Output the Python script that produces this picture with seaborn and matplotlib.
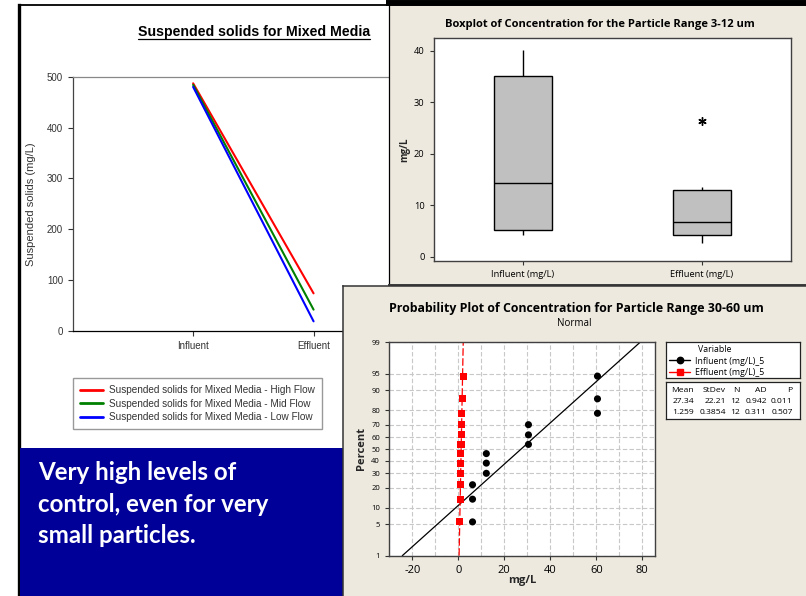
import numpy as np
import pandas as pd
import seaborn as sns
import matplotlib.pyplot as plt
from matplotlib.lines import Line2D
from matplotlib.ticker import MultipleLocator
from statistics import NormalDist

# suspended solids, mixed media (mg/L)
stages = ["Influent", "Effluent"]
high_flow = [487, 74]
mid_flow = [484, 42]
low_flow = [480, 19]
flow_labels = ["Suspended solids for Mixed Media - High Flow",
               "Suspended solids for Mixed Media - Mid Flow",
               "Suspended solids for Mixed Media - Low Flow"]
flow_colors = ["#FF0000", "#008000", "#0000FF"]

# particle range 3-12 um (mg/L)
box_groups = ["Influent (mg/L)", "Effluent (mg/L)"]
box_influent = [4.2, 4.6, 5.0, 5.3, 9.0, 13.5, 15.0, 22.0, 34.8, 36.0, 38.5, 40.1]
box_effluent = [2.6, 3.9, 4.1, 4.3, 5.6, 6.5, 6.9, 9.2, 12.7, 13.5, 13.5, 26.4]

# particle range 30-60 um, normal probability plot
prob_vars = ["Influent (mg/L)_5", "Effluent (mg/L)_5"]
prob_percent = [5.6, 13.7, 21.8, 29.8, 37.9, 46.0, 54.0, 62.1, 70.2, 78.2, 86.3, 94.4]
prob_influent = [6.2, 6.2, 6.2, 12.2, 12.2, 12.2, 30.5, 30.5, 30.5, 60.5, 60.5, 60.5]
prob_effluent = [0.7, 0.8, 1.0, 1.05, 1.1, 1.15, 1.2, 1.35, 1.4, 1.5, 1.75, 2.1]
fit_mean = [27.34, 1.259]
fit_sd = [22.21, 0.3854]
fit_percent = [1, 99]
stat_header = ["Mean", "StDev", "N", "AD", "P"]
stat_rows = [["27.34", "22.21", "12", "0.942", "0.011"],
             ["1.259", "0.3854", "12", "0.311", "0.507"]]

note = ["Very high levels of", "control, even for very", "small particles."]

sns.set_style("ticks")
plt.rcParams['font.family'] = ['Open Sans', 'DejaVu Sans']
plt.rcParams['axes.unicode_minus'] = False
plt.rcParams['text.color'] = 'black'

W, H = 806, 596
fig = plt.figure(figsize=(8.06, 5.96), dpi=100)
fig.patch.set_facecolor("white")


def px_axes(x0, y0, x1, y1):
    return fig.add_axes([x0 / W, 1 - y1 / H, (x1 - x0) / W, (y1 - y0) / H])


def panel(x0, y0, x1, y1, fc, edges):
    a = px_axes(x0, y0, x1, y1)
    a.set_facecolor(fc)
    a.set_xticks([])
    a.set_yticks([])
    for s in a.spines:
        a.spines[s].set_visible(False)
    for s, (c, lw) in edges.items():
        a.spines[s].set_visible(True)
        a.spines[s].set_color(c)
        a.spines[s].set_linewidth(lw)
    return a


def fx(x):
    return x / W


def fy(y):
    return 1 - y / H


beige = "#EDE9DF"

# ---------------- left slide panel ----------------
panel(18.5, 5, 430, 600, "white", {"left": ("black", 2.4), "top": ("black", 1.3)})

ax1 = px_axes(72.7, 76.7, 434, 331)
df_ss = pd.DataFrame({
    "stage": stages * 3,
    "value": high_flow + mid_flow + low_flow,
    "flow": [flow_labels[0]] * 2 + [flow_labels[1]] * 2 + [flow_labels[2]] * 2,
})
sns.lineplot(data=df_ss, x="stage", y="value", hue="flow", palette=flow_colors,
             linewidth=1.5, ax=ax1, sort=False)
handles, labels = ax1.get_legend_handles_labels()
ax1.get_legend().remove()
ax1.set_xlim(-1, 2)
ax1.set_ylim(0, 500)
ax1.set_yticks(range(0, 501, 100))
ax1.set_xlabel("")
ax1.set_ylabel("Suspended solids (mg/L)", fontsize=8, color="#333333",
               family="Liberation Sans")
ax1.yaxis.set_label_coords(-0.1016, 0.5)
ax1.tick_params(length=3.5, width=0.8, labelsize=7, labelcolor="#333333", color="#333333")
for lab in ax1.get_xticklabels() + ax1.get_yticklabels():
    lab.set_family("Liberation Sans")
ax1.spines["top"].set_color("#888888")
ax1.spines["left"].set_color("#444444")
ax1.spines["bottom"].set_color("black")
ax1.spines["right"].set_visible(False)
for s in ax1.spines.values():
    s.set_linewidth(0.9)
ax1.legend(handles, labels, loc="upper left", bbox_to_anchor=(fx(72.7), fy(378)),
           bbox_transform=fig.transFigure, borderaxespad=0, borderpad=0.7,
           handlelength=2.3, handletextpad=0.6, labelspacing=0.36,
           fancybox=False, edgecolor="#999999", framealpha=1,
           prop={"family": "Liberation Sans", "size": 7.2})
for t in ax1.get_legend().get_texts():
    t.set_color("#333333")
for ln in ax1.get_legend().get_lines():
    ln.set_linewidth(2)

title1 = fig.text(fx(254), fy(32), "Suspended solids for Mixed Media", ha="center",
                  va="center", fontsize=10.2, fontweight="bold", family="Liberation Sans")

# blue note box
panel(20, 448.3, 343, 600, "#000099", {})
for txt, base in zip(note, [480, 511.7, 543.3]):
    fig.text(fx(38), fy(base), txt, color="white", fontsize=17.4, fontweight="bold",
             family="Lato", va="baseline", ha="left")

# ---------------- boxplot panel ----------------
panel(388.5, 3, 810, 284.5, beige, {"left": ("black", 0.9), "top": ("black", 4.3),
                                    "bottom": ("#3a3a3a", 1.4)})
ax2 = px_axes(433.7, 38.3, 791, 260.7)
ax2.set_facecolor("white")
df_box = pd.DataFrame({
    "group": [box_groups[0]] * len(box_influent) + [box_groups[1]] * len(box_effluent),
    "conc": box_influent + box_effluent,
})
sns.boxplot(data=df_box, x="group", y="conc", order=box_groups, color="#C0C0C0",
            saturation=1, width=0.325, linecolor="black", linewidth=1, ax=ax2,
            showcaps=False, fliersize=6,
            flierprops=dict(marker=(6, 2, 0), markeredgecolor="black", markeredgewidth=1))
ax2.set_xlim(-0.5, 1.5)
ax2.set_ylim(-0.78, 42.4)
ax2.set_yticks(range(0, 41, 10))
ax2.set_xlabel("")
ax2.set_ylabel("mg/L", fontsize=7, fontweight="bold")
ax2.yaxis.set_label_coords(-0.066, 0.5)
ax2.tick_params(length=3, width=0.8, labelsize=6.7, color="#333333", labelcolor="black")
for s in ax2.spines.values():
    s.set_color("#404040")
    s.set_linewidth(1)
fig.text(fx(600), fy(25), "Boxplot of Concentration for the Particle Range 3-12 um",
         ha="center", va="center", fontsize=8.0, fontweight="bold", color="black")

# ---------------- probability plot panel ----------------
panel(342.5, 286, 810, 600, beige, {"left": ("#333333", 1.1), "top": ("#333333", 1.1)})
ax3 = px_axes(389, 342.3, 655, 555.7)
ax3.set_facecolor("white")

nd = NormalDist()
_ppf = np.vectorize(lambda v: nd.inv_cdf(v / 100.0), otypes=[float])
_cdf = np.vectorize(lambda v: nd.cdf(v) * 100.0, otypes=[float])


def p_forward(p):
    return _ppf(np.clip(np.asarray(p, dtype=float), 1e-6, 100 - 1e-6))


def p_inverse(z):
    return _cdf(np.asarray(z, dtype=float))


df_pts = pd.DataFrame({
    "x": prob_influent + prob_effluent,
    "pct": prob_percent * 2,
    "var": [prob_vars[0]] * len(prob_influent) + [prob_vars[1]] * len(prob_effluent),
})
fit_rows = []
for v, m, sd in zip(prob_vars, fit_mean, fit_sd):
    for p in fit_percent:
        fit_rows.append({"x": m + sd * nd.inv_cdf(p / 100), "pct": p, "var": v})
df_fit = pd.DataFrame(fit_rows)

ax3.set_yscale("function", functions=(p_forward, p_inverse))
sns.lineplot(data=df_fit, x="x", y="pct", hue="var", style="var", palette=["black", "red"],
             dashes={prob_vars[0]: "", prob_vars[1]: (6, 2)}, linewidth=0.9,
             legend=False, estimator=None, ax=ax3)
sns.scatterplot(data=df_pts, x="x", y="pct", hue="var", style="var",
                palette=["black", "red"], markers=["o", "s"], s=26, linewidth=0,
                legend=False, ax=ax3, zorder=3)
ax3.set_xlim(-30.1, 85.5)
ax3.set_ylim(1, 99)
ax3.set_yticks([1, 5, 10, 20, 30, 40, 50, 60, 70, 80, 90, 95, 99])
ax3.set_yticklabels(["1", "5", "10", "20", "30", "40", "50", "60", "70", "80", "90", "95", "99"])
ax3.set_xticks(range(-20, 81, 20))
ax3.xaxis.set_minor_locator(MultipleLocator(10))
ax3.grid(True, axis="x", which="both", color="#C8C8C8", linestyle=(0, (4, 2)), linewidth=0.8)
ax3.grid(True, axis="y", which="major", color="#C8C8C8", linestyle=(0, (4, 2)), linewidth=0.8)
ax3.set_axisbelow(True)
ax3.tick_params(axis="x", which="major", length=3, width=0.8, labelsize=8, color="#333333",
                labelcolor="black")
ax3.tick_params(axis="x", which="minor", length=0)
ax3.tick_params(axis="y", length=3, width=0.8, labelsize=5.5, color="#333333",
                labelcolor="black")
ax3.set_xlabel("mg/L", fontsize=8, fontweight="bold")
ax3.xaxis.set_label_coords(0.5, -0.09)
ax3.set_ylabel("Percent", fontsize=8, fontweight="bold")
ax3.yaxis.set_label_coords(-0.083, 0.5)
for s in ax3.spines.values():
    s.set_color("#404040")
    s.set_linewidth(1)
fig.text(fx(576.7), fy(309), "Probability Plot of Concentration for Particle Range 30-60 um",
         ha="center", va="center", fontsize=8.9, fontweight="bold", color="black")
fig.text(fx(574), fy(323.3), "Normal", ha="center", va="center", fontsize=7)

# variable legend box
lax = panel(665.7, 342.3, 800, 378.3, "white", {s: ("#222222", 0.9) for s in
                                                  ["left", "right", "top", "bottom"]})
leg_handles = [Line2D([], [], color="black", marker="o", markersize=4.6, linewidth=1),
               Line2D([], [], color="red", marker="s", markersize=4.2, linewidth=1)]
lax.legend(leg_handles, prob_vars, loc="upper left",
           bbox_to_anchor=(fx(669), fy(356.5)), bbox_transform=fig.transFigure,
           frameon=False, borderpad=0, borderaxespad=0, fontsize=6.3,
           handlelength=2.4, handletextpad=0.6, labelspacing=0.3)
fig.text(fx(698), fy(349), "Variable", fontsize=6.3, ha="left", va="center")

# statistics table box
sax = panel(665.7, 381.7, 800, 419.3, "white", {s: ("#222222", 0.9) for s in
                                                  ["left", "right", "top", "bottom"]})
col_right = [694, 725.7, 740, 766.7, 792.7]
for row, ypos in zip([stat_header] + stat_rows, [390.3, 401.3, 412.3]):
    for cell, xr in zip(row, col_right):
        fig.text(fx(xr), fy(ypos), cell, fontsize=6.1, ha="right", va="center")

# underline the left chart title
fig.canvas.draw()
bb = title1.get_window_extent(fig.canvas.get_renderer())
fig.add_artist(Line2D([bb.x0 / W, bb.x1 / W], [fy(39), fy(39)], transform=fig.transFigure,
                      color="black", linewidth=0.9))

fig.savefig("out.png", dpi=100)
